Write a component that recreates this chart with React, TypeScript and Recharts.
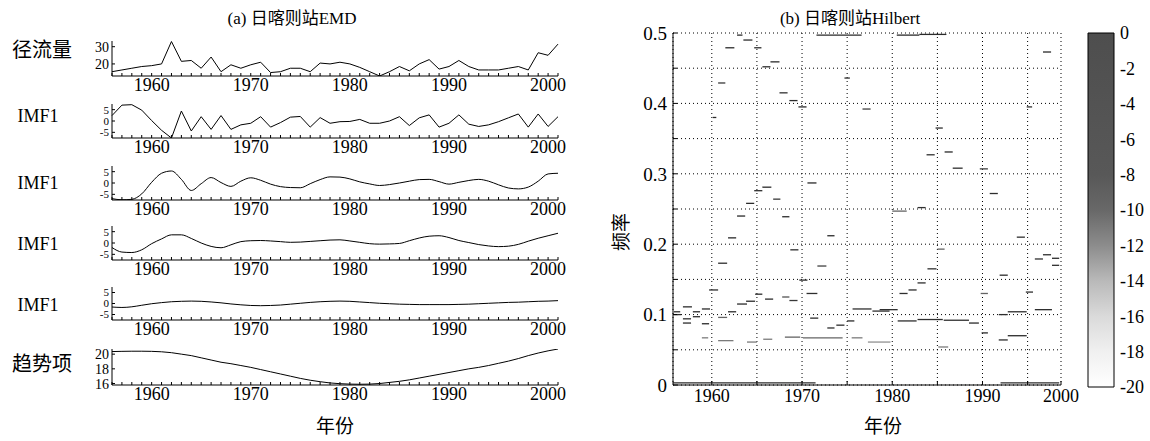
import React from 'react';
import { LineChart, Line, XAxis, YAxis, ComposedChart, CartesianGrid, BarChart, Bar } from 'recharts';

const FONT = '"Liberation Serif", "Times New Roman", "DejaVu Serif", "Noto Sans CJK SC", serif';

// years of the EMD strips
const years = [
  1956, 1957, 1958, 1959, 1960, 1961, 1962, 1963, 1964, 1965,
  1966, 1967, 1968, 1969, 1970, 1971, 1972, 1973, 1974, 1975,
  1976, 1977, 1978, 1979, 1980, 1981, 1982, 1983, 1984, 1985,
  1986, 1987, 1988, 1989, 1990, 1991, 1992, 1993, 1994, 1995,
  1996, 1997, 1998, 1999, 2000, 2001,
];
const decadeTicks = [1960, 1970, 1980, 1990, 2000];

// 径流量
const runoff = [
  15.5, 16.5, 17.5, 18.5, 19, 20, 33, 21.5, 22, 17.5,
  24, 15.5, 19.5, 17.5, 19.5, 21, 15, 15.5, 17.5, 17.5,
  15.5, 20.5, 20, 21, 20, 18, 15.5, 13, 15.5, 18.5,
  16, 20, 22.5, 17, 18.5, 22, 18.5, 16.5, 16.5, 16.5,
  17.5, 18.5, 16.5, 26.5, 25, 31.5,
];
const imf1 = [
  2.4, 7.0, 7.2, 4.8, 0.2, -4.1, -7.5, 4.4, -4.4, 1.9,
  -3.7, 2.4, -3.7, -1.7, -1.0, 1.9, -2.7, -0.7, 1.7, 2.0,
  -2.7, 1.5, -1.0, -0.3, -0.2, 0.7, -1.0, -1.0, 0, 1.9,
  -2.0, 1.4, 2.7, -2.7, -1.0, 2.7, -1.4, -2.4, -1.7, -0.3,
  1.4, 3.1, -2.7, 3.1, -2.4, 1.9,
];
const imf2 = [
  -6.9, -7.4, -7.2, -4.8, 0.3, 4.3, 5.3, 1.6, -3.3, -0.3,
  2.4, 0.2, -1.5, 0.8, 2.3, 1.2, -0.5, -1.6, -2.0, -2.1,
  -0.3, 1.5, 2.7, 2.6, 1.8, 0.5, -0.4, -1.1, -0.7, 0,
  0.8, 1.5, 1.6, 0.6, -0.5, 0.3, 1.1, 1.6, 0.8, -0.8,
  -2.2, -2.6, -1.8, 0.8, 4.0, 4.3,
];
const imf3 = [
  -2.0, -4.0, -4.2, -3.0, -0.3, 1.8, 3.6, 3.6, 2.0, 0.0,
  -1.5, -2.1, -0.8, 0.6, 1.0, 1.1, 0.9, 0.6, 0.3, 0.4,
  0.7, 1.0, 1.3, 1.4, 0.9, 0.3, -0.3, -0.5, -0.4, -0.2,
  1.0, 2.2, 3.0, 3.2, 2.4, 1.1, 0.2, -0.7, -1.3, -1.6,
  -1.4, -0.6, 0.8, 2.1, 3.2, 4.3,
];
const imf4 = [
  -1.6, -1.8, -1.5, -0.8, -0.1, 0.4, 0.8, 1.0, 1.1, 1.0,
  0.7, 0.3, -0.2, -0.6, -0.9, -1.0, -0.9, -0.7, -0.3, 0.1,
  0.5, 0.8, 1.0, 1.1, 1.0, 0.7, 0.4, 0.1, -0.1, -0.3,
  -0.4, -0.5, -0.5, -0.5, -0.5, -0.4, -0.3, -0.1, 0.1, 0.3,
  0.5, 0.6, 0.8, 1.0, 1.1, 1.3,
];
// 趋势项
const trend = [
  20.35, 20.38, 20.4, 20.4, 20.38, 20.32, 20.2, 20.0, 19.8, 19.5,
  19.2, 18.9, 18.7, 18.45, 18.2, 17.9, 17.6, 17.3, 17.0, 16.7,
  16.45, 16.25, 16.08, 15.98, 15.92, 15.9, 15.92, 16.0, 16.15, 16.3,
  16.5, 16.75, 17.0, 17.25, 17.5, 17.75, 18.0, 18.2, 18.45, 18.75,
  19.05, 19.4, 19.8, 20.15, 20.45, 20.7,
];

// Hilbert spectrum: [start year, end year, frequency, amplitude dB]
const hilbertSegments = [
  [1962.8, 1963.4, 0.497, -4], [1961.5, 1962.5, 0.479, -3], [1963.5, 1964.5, 0.49, -4],
  [1964.7, 1965.5, 0.479, -3], [1965.6, 1966.5, 0.452, -6], [1966.5, 1967.5, 0.459, -3],
  [1960.7, 1961.5, 0.429, -9], [1967.5, 1968.4, 0.415, -8], [1968.6, 1969.5, 0.404, -4],
  [1969.6, 1970.5, 0.395, -2], [1960.1, 1960.5, 0.38, -2], [1974.7, 1975.3, 0.436, -8],
  [1976.7, 1977.6, 0.392, -10], [1971.6, 1976.6, 0.497, -3], [1970.6, 1971.6, 0.287, -2],
  [1964.7, 1965.6, 0.276, -6], [1965.6, 1966.6, 0.281, -2], [1966.8, 1967.6, 0.264, -9],
  [1963.8, 1964.7, 0.258, -4], [1962.8, 1963.7, 0.24, -2], [1967.8, 1968.6, 0.239, -3],
  [1961.8, 1962.7, 0.209, -1], [1960.7, 1961.7, 0.173, -5], [1968.7, 1969.6, 0.192, -4],
  [1972.8, 1973.6, 0.212, -2], [1971.7, 1972.7, 0.169, -10], [1959.7, 1960.7, 0.135, -5],
  [1969.7, 1970.6, 0.149, -4], [1970.5, 1971.7, 0.13, -6], [1964.8, 1965.6, 0.129, -4],
  [1965.9, 1966.8, 0.122, -5], [1967.8, 1968.6, 0.125, -11], [1968.6, 1969.5, 0.12, -9],
  [1963.8, 1964.8, 0.119, -3], [1962.8, 1963.9, 0.115, -4], [1961.8, 1962.7, 0.104, -4],
  [1955.8, 1956.5, 0.104, -4], [1956.8, 1957.8, 0.111, -5], [1957.9, 1958.7, 0.104, -4],
  [1958.9, 1959.8, 0.108, -3], [1956.8, 1957.7, 0.094, -6], [1957.9, 1958.7, 0.097, -5],
  [1956.8, 1957.7, 0.088, -5], [1958.9, 1959.7, 0.087, -2], [1955.8, 1956.6, 0.1, -3],
  [1975.6, 1977.7, 0.108, -7], [1977.8, 1979.7, 0.105, -8], [1972.8, 1973.6, 0.081, -6],
  [1973.8, 1974.7, 0.085, -5], [1975.0, 1975.8, 0.091, -2], [1970.9, 1971.8, 0.095, -5],
  [1960.7, 1961.7, 0.096, -12], [1958.9, 1959.6, 0.067, -13], [1960.7, 1962.4, 0.063, -13],
  [1963.9, 1965.0, 0.061, -13], [1965.7, 1966.7, 0.065, -13], [1968.1, 1969.8, 0.068, -12],
  [1970.1, 1974.5, 0.067, -12], [1975.5, 1976.7, 0.067, -13], [1977.3, 1979.8, 0.061, -14],
  [1955.7, 1971.5, 0.003, -4], [1996.7, 1997.6, 0.473, -3], [1994.9, 1995.5, 0.395, -6],
  [1984.8, 1985.6, 0.365, -7], [1983.8, 1984.7, 0.327, -6], [1985.8, 1986.7, 0.331, -2],
  [1986.7, 1987.8, 0.308, -5], [1989.7, 1990.6, 0.307, -10], [1990.8, 1991.7, 0.272, -6],
  [1980.0, 1981.6, 0.247, -12], [1982.8, 1983.7, 0.252, -8], [1993.8, 1994.7, 0.21, -6],
  [1985.0, 1985.8, 0.193, -12], [1983.9, 1984.9, 0.165, -7], [1991.9, 1992.8, 0.156, -2],
  [1995.8, 1996.7, 0.179, -8], [1996.7, 1997.6, 0.185, -6], [1997.7, 1998.5, 0.18, -5],
  [1997.7, 1998.5, 0.17, -7], [1980.8, 1981.7, 0.13, -6], [1981.8, 1982.7, 0.135, -5],
  [1982.8, 1983.7, 0.145, -6], [1989.8, 1990.6, 0.13, -12], [1994.8, 1995.6, 0.132, -6],
  [1978.6, 1980.6, 0.107, -7], [1992.8, 1994.9, 0.104, -5], [1995.8, 1997.7, 0.107, -6],
  [1991.8, 1992.8, 0.1, -6], [1980.6, 1982.7, 0.091, -6], [1982.8, 1985.6, 0.093, -6],
  [1985.7, 1988.5, 0.092, -6], [1988.5, 1989.6, 0.088, -4], [1989.9, 1990.6, 0.074, -2],
  [1991.8, 1992.8, 0.064, -5], [1992.8, 1994.9, 0.07, -3], [1985.1, 1986.2, 0.054, -13],
  [1992.0, 1998.5, 0.003, -5], [1980.5, 1983.0, 0.497, -4], [1983.0, 1986.0, 0.498, -3],
];

const hilbertXTicks = [1960, 1965, 1970, 1975, 1980, 1985, 1990, 1995, 1998.7];
const hilbertXLabels = ['1960', '', '1970', '', '1980', '', '1990', '', '2000'];
const hilbertYTicks = [0, 0.05, 0.1, 0.15, 0.2, 0.25, 0.3, 0.35, 0.4, 0.45, 0.5];
const hilbertYLabels = ['0', '', '0.1', '', '0.2', '', '0.3', '', '0.4', '', '0.5'];

// colour bar (dB)
const cbTicks = [0, -2, -4, -6, -8, -10, -12, -14, -16, -18, -20];
const cbStops = [
  [0, 78], [-8, 88], [-10, 104], [-12, 140], [-14, 185], [-16, 218], [-18, 240], [-20, 255],
];

function grayFor(level: number) {
  for (let i = 0; i < cbStops.length - 1; i++) {
    const [a, ga] = cbStops[i];
    const [b, gb] = cbStops[i + 1];
    if (level <= a && level >= b) {
      const g = Math.round(ga + ((a - level) / (a - b)) * (gb - ga)) - 40;
      const c = Math.max(0, Math.min(255, g));
      return `rgb(${c},${c},${c})`;
    }
  }
  return '#fff';
}

const tickText = (size: number) => ({ fill: '#000', fontSize: size, fontFamily: FONT });

type StripProps = {
  top: number;
  boxH: number;
  values: number[];
  domain: [number, number];
  yTicks: number[];
  yFont: number;
  curve: 'linear' | 'monotone';
};

function Strip({ top, boxH, values, domain, yTicks, yFont, curve }: StripProps) {
  const rows = years.map((y, i) => ({ year: y, v: values[i] }));
  return (
    <div style={{ position: 'absolute', left: 0, top: top - 1 }}>
      <LineChart width={600} height={boxH + 1 + 26} data={rows} margin={{ top: 1, right: 42, bottom: 0, left: 0 }}>
        <XAxis
          xAxisId="b"
          dataKey="year"
          type="number"
          domain={[1956, 2001]}
          ticks={years}
          interval={0}
          tickSize={-3}
          tickMargin={5}
          height={26}
          stroke="#000"
          tick={tickText(18)}
          tickFormatter={(v) => (decadeTicks.includes(v) ? String(v) : '')}
        />
        <XAxis
          xAxisId="t"
          orientation="top"
          dataKey="year"
          type="number"
          domain={[1956, 2001]}
          ticks={years}
          interval={0}
          tickSize={-3}
          tick={false}
          height={0}
          stroke="#000"
        />
        <YAxis
          yAxisId="l"
          type="number"
          domain={domain}
          ticks={yTicks}
          interval={0}
          width={112}
          tickSize={-3}
          tickMargin={6}
          allowDataOverflow
          stroke="#000"
          tick={tickText(yFont)}
        />
        <YAxis
          yAxisId="r"
          orientation="right"
          type="number"
          domain={domain}
          ticks={yTicks}
          width={0}
          tickSize={-3}
          tick={false}
          allowDataOverflow
          stroke="#000"
        />
        <Line
          xAxisId="b"
          yAxisId="l"
          dataKey="v"
          type={curve}
          stroke="#000"
          strokeWidth={1}
          dot={false}
          isAnimationActive={false}
        />
      </LineChart>
    </div>
  );
}

function Label({ x, y, size, children, rotate }: { x: number; y: number; size: number; children: React.ReactNode; rotate?: number }) {
  return (
    <div
      style={{
        position: 'absolute',
        left: x,
        top: y,
        transform: `translate(-50%, -50%)${rotate ? ` rotate(${rotate}deg)` : ''}`,
        fontFamily: FONT,
        fontSize: size,
        whiteSpace: 'nowrap',
        lineHeight: 1,
        color: '#000',
      }}
    >
      {children}
    </div>
  );
}

function HilbertChart() {
  return (
    <div style={{ position: 'absolute', left: 600, top: 0 }}>
      <ComposedChart width={490} height={420} margin={{ top: 33, right: 29, bottom: 0, left: 0 }}>
        <CartesianGrid stroke="#000" strokeDasharray="1 3" />
        <XAxis
          dataKey="x"
          type="number"
          domain={[1955.7, 1998.7]}
          ticks={hilbertXTicks}
          interval={0}
          height={35}
          tickSize={-4}
          tickMargin={8}
          allowDataOverflow
          stroke="#000"
          tick={tickText(18)}
          tickFormatter={(v) => hilbertXLabels[hilbertXTicks.indexOf(v)]}
        />
        <XAxis
          xAxisId="t"
          orientation="top"
          dataKey="x"
          type="number"
          domain={[1955.7, 1998.7]}
          height={0}
          tick={false}
          tickLine={false}
          stroke="#000"
        />
        <YAxis
          type="number"
          domain={[0, 0.5]}
          ticks={hilbertYTicks}
          interval={0}
          width={73}
          tickSize={-4}
          tickMargin={10}
          allowDataOverflow
          stroke="#000"
          tick={tickText(19)}
          tickFormatter={(v) => hilbertYLabels[hilbertYTicks.indexOf(v)]}
        />
        <YAxis
          yAxisId="r"
          orientation="right"
          type="number"
          domain={[0, 0.5]}
          width={0}
          tick={false}
          tickLine={false}
          stroke="#000"
        />
        {hilbertSegments.map((s, i) => (
          <Line
            key={i}
            data={[
              { x: s[0], f: s[2] },
              { x: s[1], f: s[2] },
            ]}
            dataKey="f"
            stroke={grayFor(s[3])}
            strokeWidth={1.3}
            dot={false}
            isAnimationActive={false}
          />
        ))}
      </ComposedChart>
    </div>
  );
}

function ColorBar() {
  const data = [{ name: 'dB', range: [cbTicks[cbTicks.length - 1], cbTicks[0]] }];
  return (
    <div style={{ position: 'absolute', left: 1080, top: 0 }}>
      <BarChart width={70} height={400} data={data} margin={{ top: 33, right: 0, bottom: 13, left: 8 }} barCategoryGap={0}>
        <defs>
          <linearGradient id="cbGrad" x1="0" y1="0" x2="0" y2="1">
            {cbStops.map(([lv, g]) => (
              <stop key={lv} offset={`${(-lv / 20) * 100}%`} stopColor={`rgb(${g},${g},${g})`} />
            ))}
          </linearGradient>
        </defs>
        <XAxis dataKey="name" hide />
        <YAxis
          orientation="right"
          type="number"
          domain={[-20, 0]}
          ticks={cbTicks}
          interval={0}
          width={36}
          tickSize={0}
          tickMargin={6}
          axisLine={false}
          tick={tickText(18)}
        />
        <Bar dataKey="range" fill="url(#cbGrad)" stroke="#000" strokeWidth={1} isAnimationActive={false} />
      </BarChart>
    </div>
  );
}

export default function App() {
  return (
    <div style={{ position: 'absolute', left: 0, top: 0, width: 1150, height: 441, background: '#fff', overflow: 'hidden' }}>
      <Label x={292} y={18} size={17}>(a) 日喀则站EMD</Label>
      <Label x={850} y={18} size={17}>(b) 日喀则站Hilbert</Label>

      <Strip top={41} boxH={35} values={runoff} domain={[13, 33.3]} yTicks={[20, 30]} yFont={14} curve="linear" />
      <Strip top={104} boxH={34} values={imf1} domain={[-7.5, 7.5]} yTicks={[-5, 0, 5]} yFont={11} curve="linear" />
      <Strip top={166} boxH={34} values={imf2} domain={[-7.5, 7.5]} yTicks={[-5, 0, 5]} yFont={11} curve="monotone" />
      <Strip top={226} boxH={34} values={imf3} domain={[-7.5, 7.5]} yTicks={[-5, 0, 5]} yFont={11} curve="monotone" />
      <Strip top={287} boxH={33} values={imf4} domain={[-7.5, 7.5]} yTicks={[-5, 0, 5]} yFont={11} curve="monotone" />
      <Strip top={349} boxH={36} values={trend} domain={[15.8, 20.7]} yTicks={[16, 18, 20]} yFont={14} curve="monotone" />

      <Label x={42} y={50} size={20}>径流量</Label>
      <Label x={38} y={116} size={18}>IMF1</Label>
      <Label x={38} y={183} size={18}>IMF1</Label>
      <Label x={38} y={244} size={18}>IMF1</Label>
      <Label x={38} y={305} size={18}>IMF1</Label>
      <Label x={42} y={364} size={20}>趋势项</Label>
      <Label x={335} y={426} size={19}>年份</Label>

      <HilbertChart />
      <ColorBar />
      <Label x={621} y={232} size={19} rotate={-90}>频率</Label>
      <Label x={883} y={426} size={19}>年份</Label>
    </div>
  );
}
